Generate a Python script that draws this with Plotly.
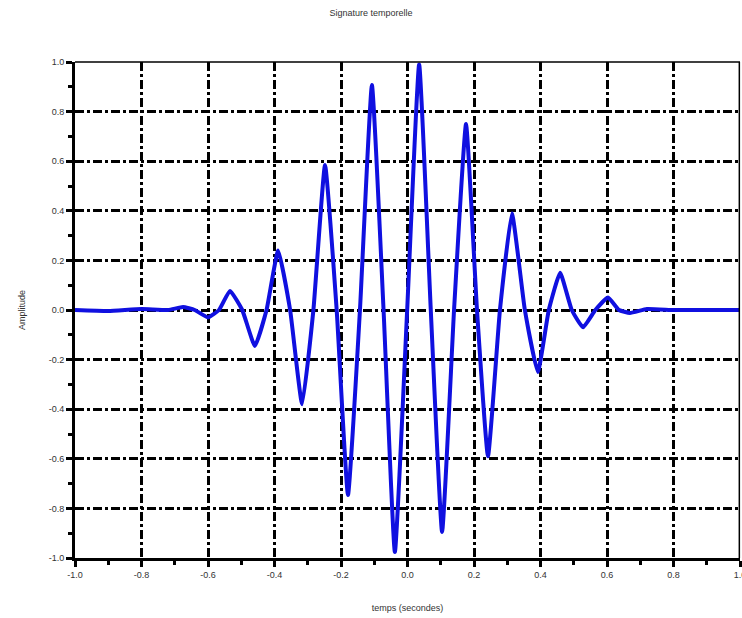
import plotly.graph_objects as go

title_text = "Signature temporelle"
x_title = "temps (secondes)"
y_title = "Amplitude"

t_values = [-1.0, -0.9, -0.8, -0.72, -0.675, -0.64, -0.6, -0.567, -0.534, -0.497,
            -0.459, -0.424, -0.389, -0.353, -0.317, -0.283, -0.248, -0.213, -0.179,
            -0.143, -0.107, -0.072, -0.038, -0.001, 0.035, 0.07, 0.104, 0.14, 0.176,
            0.209, 0.242, 0.278, 0.314, 0.353, 0.392, 0.425, 0.459, 0.494, 0.528,
            0.565, 0.603, 0.636, 0.669, 0.72, 0.8, 0.9, 1.0]
amp_values = [0.0, -0.004, 0.004, 0.0, 0.012, 0.0, -0.03, 0.0, 0.077, 0.0,
              -0.145, 0.0, 0.24, 0.0, -0.38, 0.0, 0.585, 0.0, -0.746,
              0.0, 0.907, 0.0, -0.976, 0.0, 0.99, 0.0, -0.895, 0.0, 0.75,
              0.0, -0.59, 0.0, 0.39, 0.0, -0.25, 0.0, 0.15, 0.0, -0.07,
              0.0, 0.05, 0.0, -0.012, 0.004, 0.0, 0.0, 0.0]

x_ticks = [-1.0, -0.8, -0.6, -0.4, -0.2, 0.0, 0.2, 0.4, 0.6, 0.8, 1.0]
x_tick_labels = ["-1.0", "-0.8", "-0.6", "-0.4", "-0.2", "0.0", "0.2", "0.4", "0.6", "0.8", "1.0"]
y_ticks = [-1.0, -0.8, -0.6, -0.4, -0.2, 0.0, 0.2, 0.4, 0.6, 0.8, 1.0]
y_tick_labels = ["-1.0", "-0.8", "-0.6", "-0.4", "-0.2", "0.0", "0.2", "0.4", "0.6", "0.8", "1.0"]

fig = go.Figure()
fig.add_trace(go.Scatter(
    x=t_values, y=amp_values, mode="lines",
    line=dict(color="#1010e0", width=4, shape="spline", smoothing=0.4),
    showlegend=False, cliponaxis=True,
))

axis_common = dict(
    showline=True, linecolor="black", linewidth=3,
    ticks="outside", ticklen=6, tickwidth=3, tickcolor="black",
    showgrid=True, gridcolor="black", gridwidth=3, griddash="dashdot",
    zeroline=False, ticklabeloverflow="allow",
    tickfont=dict(family="Liberation Sans, Arial", size=9, color="#333333"),
    minor=dict(ticks="outside", ticklen=4, tickwidth=3, tickcolor="black", showgrid=False),
)

fig.update_layout(
    width=742, height=618,
    margin=dict(l=75, r=2, t=62, b=60, autoexpand=False),
    paper_bgcolor="white", plot_bgcolor="white",
    font=dict(family="Liberation Sans, Arial", size=9, color="#333333"),
    title=dict(text=title_text, x=0.5, xanchor="center", y=0.985, yanchor="top",
               font=dict(size=9, color="#333333")),
    xaxis=dict(range=[-1.0, 1.0], tickvals=x_ticks, ticktext=x_tick_labels,
               title=dict(text=x_title, standoff=26, font=dict(size=9)),
               **axis_common),
    yaxis=dict(range=[-1.0, 1.0], tickvals=y_ticks, ticktext=y_tick_labels,
               title=dict(text=y_title, standoff=22, font=dict(size=9)),
               **axis_common),
)
fig.update_xaxes(minor=dict(tickvals=[v + 0.1 for v in x_ticks[:-1]]))
fig.update_yaxes(minor=dict(tickvals=[v + 0.1 for v in y_ticks[:-1]]))

# thin frame on top and right
fig.add_shape(type="line", xref="paper", yref="paper", x0=0, x1=1, y0=1, y1=1,
              line=dict(color="black", width=1.5))
fig.add_shape(type="line", xref="paper", yref="paper", x0=0.999, x1=0.999, y0=0, y1=1,
              line=dict(color="black", width=1.5))

fig.write_html("out.html", config={"displayModeBar": False},
               post_script="document.body.style.margin='0px';document.body.style.overflow='hidden';")
